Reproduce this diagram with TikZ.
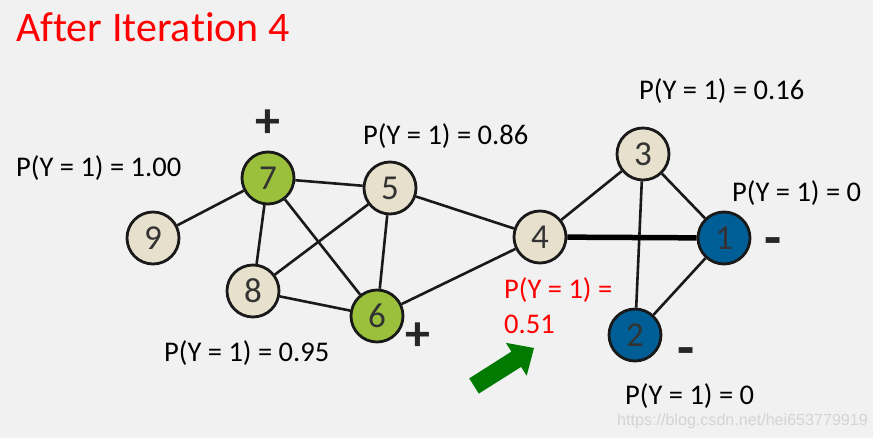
\documentclass[tikz,border=0pt]{standalone}
\usepackage{fontspec}
\setmainfont[RawFeature={-liga;-clig;-dlig}]{Carlito}
\newfontfamily\wmfont{Liberation Sans}
\definecolor{bgc}{RGB}{241,241,241}
\definecolor{beige}{RGB}{230,224,204}
\definecolor{leaf}{RGB}{155,192,60}
\definecolor{deepblue}{RGB}{0,94,150}
\definecolor{arrowgreen}{RGB}{0,122,0}
\definecolor{rimc}{RGB}{25,25,25}
\definecolor{titlered}{RGB}{255,0,0}
\definecolor{wmc}{RGB}{212,212,212}
\tikzset{
  gnode/.style={circle, draw=rimc, line width=2.8pt, minimum size=52pt, inner sep=0pt,
    font=\fontsize{35}{36}\selectfont, text=black!80},
  unlnode/.style={gnode, fill=beige},
  posnode/.style={gnode, fill=leaf},
  negnode/.style={gnode, fill=deepblue},
  linkedge/.style={line width=2.6pt, draw=black!90},
  thicklink/.style={line width=5.5pt, draw=black},
  probtext/.style={anchor=base west, inner sep=0pt, font=\fontsize{28.5}{34}\selectfont},
  signtext/.style={inner sep=0pt, font=\bfseries\fontsize{50}{52}\selectfont, text=black!85},
  dashtext/.style={inner sep=0pt, font=\bfseries\fontsize{56}{58}\selectfont, text=black!85}
}
\begin{document}
\begin{tikzpicture}[x=1pt,y=-1pt]
\useasboundingbox (0,0) rectangle (873,438);
\fill[bgc] (0,0) rectangle (873,438);

\node[anchor=base west, inner sep=0pt, text=titlered, font=\fontsize{42}{46}\selectfont] (title) at (16,41.5) {After Itera\kern0pt tion 4};

\node[posnode] (n7) at (268,178) {7};
\node[unlnode] (n5) at (390,188) {5};
\node[unlnode] (n9) at (153,238) {9};
\node[unlnode] (n8) at (253,291) {8};
\node[posnode] (n6) at (377,316) {6};
\node[unlnode] (n4) at (540,237) {4};
\node[unlnode] (n3) at (643,154) {3};
\node[negnode] (n1) at (724,238) {1};
\node[negnode] (n2) at (635,335) {2};

\draw[linkedge] (n9) -- (n7);
\draw[linkedge] (n7) -- (n5);
\draw[linkedge] (n7) -- (n8);
\draw[linkedge] (n7) -- (n6);
\draw[linkedge] (n5) -- (n8);
\draw[linkedge] (n5) -- (n6);
\draw[linkedge] (n5) -- (n4);
\draw[linkedge] (n8) -- (n6);
\draw[linkedge] (n6) -- (n4);
\draw[linkedge] (n4) -- (n3);
\draw[linkedge] (n3) -- (n1);
\draw[linkedge] (n3) -- (n2);
\draw[linkedge] (n2) -- (n1);
\draw[thicklink] (n4) -- (n1);

\node[signtext] (p7) at (268,124) {+};
\node[signtext] (p6) at (418,337) {+};
\node[dashtext] (m1) at (773,247) {-};
\node[dashtext] (m2) at (686,357) {-};

\node[probtext] (l9) at (16,177) {P(Y = 1) = 1.00};
\node[probtext] (l5) at (363,145) {P(Y = 1) = 0.86};
\node[probtext] (l3) at (639,100) {P(Y = 1) = 0.16};
\node[probtext] (l1) at (732,202) {P(Y = 1) = 0};
\node[probtext] (l8) at (164,362) {P(Y = 1) = 0.95};
\node[probtext] (l2) at (625,404) {P(Y = 1) = 0};
\node[probtext, text=titlered] (l4a) at (504,299) {P(Y = 1) =};
\node[probtext, text=titlered] (l4b) at (504,334) {0.51};

\fill[arrowgreen] (469.2,378.4) -- (511.4,351.6) -- (505.8,342.8) -- (534,348) -- (526.7,375.7) -- (521.1,366.9) -- (478.8,393.6) -- cycle;

\node[anchor=base west, inner sep=0pt, text=wmc, font=\wmfont\fontsize{16.1}{18}\selectfont] (wm) at (617,425) {https://blog.csdn.net/hei653779919};
\end{tikzpicture}
\end{document}
